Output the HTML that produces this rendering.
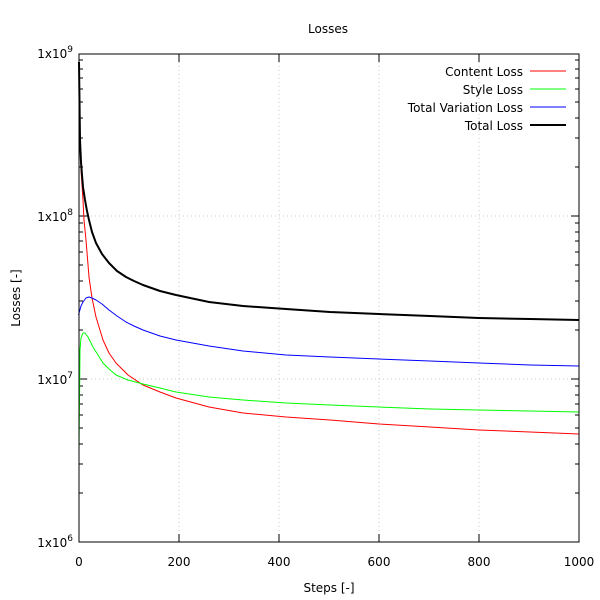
<!DOCTYPE html>
<html><head><meta charset="utf-8"><style>
html,body{margin:0;padding:0;background:#fff;}
svg{display:block;font-family:"DejaVu Sans","Liberation Sans",sans-serif;font-size:12px;}
</style></head><body>
<svg width="600" height="600" viewBox="0 0 600 600" xmlns="http://www.w3.org/2000/svg">
<rect width="600" height="600" fill="#fff"/>
<g stroke="#c8c8c8" stroke-width="1" stroke-dasharray="1,3">
<line x1="179" y1="54" x2="179" y2="542"/><line x1="279" y1="54" x2="279" y2="542"/>
<line x1="379" y1="54" x2="379" y2="542"/><line x1="479" y1="54" x2="479" y2="542"/>
<line x1="79" y1="216" x2="579" y2="216"/><line x1="79" y1="379" x2="579" y2="379"/>
</g>
<g stroke="#000" stroke-width="1" fill="none">
<path d="M79,493h4M79,464h4M79,444h4M79,428h4M79,415h4M79,404h4M79,395h4M79,386h4
M79,330h4M79,301h4M79,281h4M79,265h4M79,252h4M79,241h4M79,232h4M79,223h4
M79,167h4M79,138h4M79,118h4M79,102h4M79,89h4M79,78h4M79,69h4M79,60h4
M579,493h-4M579,464h-4M579,444h-4M579,428h-4M579,415h-4M579,404h-4M579,395h-4M579,386h-4
M579,330h-4M579,301h-4M579,281h-4M579,265h-4M579,252h-4M579,241h-4M579,232h-4M579,223h-4
M579,167h-4M579,138h-4M579,118h-4M579,102h-4M579,89h-4M579,78h-4M579,69h-4M579,60h-4
M79,216h8M79,379h8M579,216h-8M579,379h-8
M179,542v-8M279,542v-8M379,542v-8M479,542v-8M179,54v8M279,54v8M379,54v8M479,54v8"/>
</g>
<polyline fill="none" stroke="#ff0000" stroke-width="1" stroke-linejoin="round" points="79,62 80,130 81,170 83,200 84,220 86,240 89,277 92,298 96,317 103,340 109,353 116,363 128,375 143,385 160,392 176,398 209,407 243,413 286,417 330,420 379,424 430,427 479,430 530,432 579,434"/>
<polyline fill="none" stroke="#00ff00" stroke-width="1" stroke-linejoin="round" points="79,450 79.5,400 80,350 81,338 83,333 85,333 88,337 93,347 98,355 103,363 109,369 116,375 128,380 143,384 160,388 176,392 209,397 243,400 286,403 330,405 379,407 430,409 479,410 530,411 579,412"/>
<polyline fill="none" stroke="#0000ff" stroke-width="1" stroke-linejoin="round" points="78.5,315 81,306 83,302 86,298 89,297 92,298 96,300 102,304 109,310 117,316 126,322 134,326 143,330 160,336 176,340 209,346 243,351 286,355 330,357 379,359 430,361 479,363 530,365 579,366"/>
<polyline fill="none" stroke="#000" stroke-width="2" stroke-linejoin="round" points="79,62 80,140 81,162 82,175 83,187 85,200 87,211 89,220 92,232 96,243 102,254 109,263 117,271 126,277 134,281 143,285 160,291 176,295 209,302 243,306 286,309 330,312 379,314 430,316 479,318 530,319 579,320"/>
<rect x="79" y="54" width="500" height="488" fill="none" stroke="#000" stroke-width="1"/>
<g fill="#000">
<text x="328" y="33" text-anchor="middle">Losses</text>
<text x="73" y="58" text-anchor="end">1x10<tspan dy="-6" font-size="9">9</tspan></text>
<text x="73" y="221" text-anchor="end">1x10<tspan dy="-6" font-size="9">8</tspan></text>
<text x="73" y="384" text-anchor="end">1x10<tspan dy="-6" font-size="9">7</tspan></text>
<text x="73" y="547" text-anchor="end">1x10<tspan dy="-6" font-size="9">6</tspan></text>
<text x="79" y="566" text-anchor="middle">0</text>
<text x="179" y="566" text-anchor="middle">200</text>
<text x="279" y="566" text-anchor="middle">400</text>
<text x="379" y="566" text-anchor="middle">600</text>
<text x="479" y="566" text-anchor="middle">800</text>
<text x="579" y="566" text-anchor="middle">1000</text>
<text x="329" y="592" text-anchor="middle">Steps [-]</text>
<text transform="translate(20,298) rotate(-90)" text-anchor="middle">Losses [-]</text>
<text x="523" y="76" text-anchor="end">Content Loss</text>
<text x="523" y="94" text-anchor="end">Style Loss</text>
<text x="523" y="112" text-anchor="end">Total Variation Loss</text>
<text x="523" y="130" text-anchor="end">Total Loss</text>
</g>
<line x1="530" y1="71" x2="566" y2="71" stroke="#ff0000"/>
<line x1="530" y1="89" x2="566" y2="89" stroke="#00ff00"/>
<line x1="530" y1="107" x2="566" y2="107" stroke="#0000ff"/>
<line x1="530" y1="125" x2="566" y2="125" stroke="#000" stroke-width="2"/>
</svg>
</body></html>
